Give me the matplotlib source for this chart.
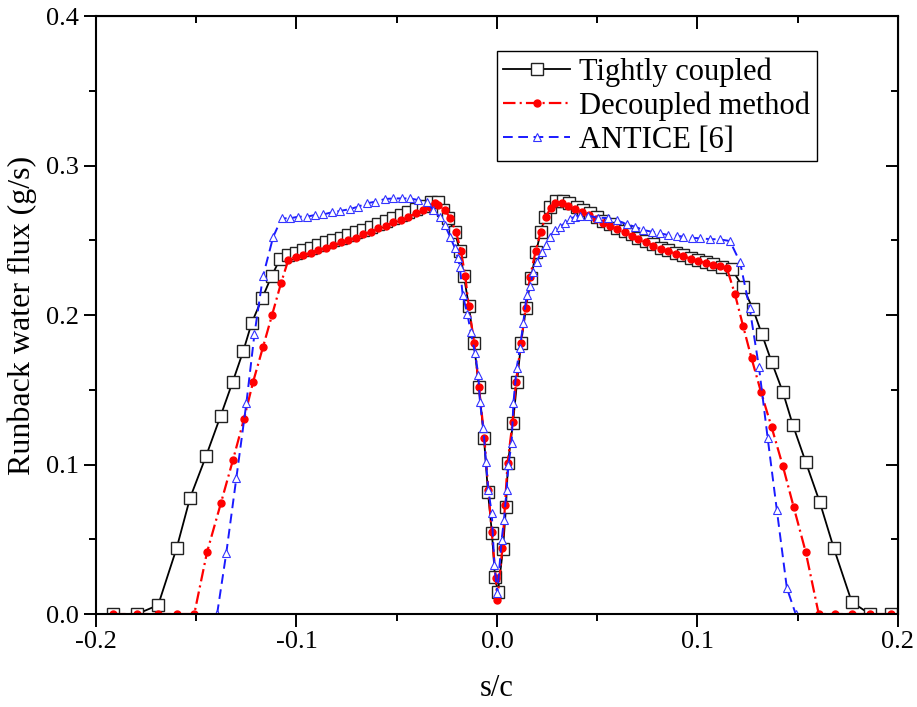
import matplotlib
matplotlib.use("Agg")
import matplotlib.pyplot as plt
from matplotlib.ticker import MultipleLocator, FormatStrFormatter

plt.rcParams['font.family'] = ['Liberation Serif', 'DejaVu Serif']
plt.rcParams['lines.scale_dashes'] = False

# Tightly coupled (black squares)
tc_x = [-0.1915, -0.1795, -0.169, -0.1598, -0.1531, -0.1451, -0.1378, -0.1318, -0.1265, -0.1223,
        -0.117, -0.1124, -0.1082, -0.1041, -0.1003, -0.0966, -0.0929, -0.0891, -0.0853, -0.0816,
        -0.078, -0.0742, -0.0703, -0.0667, -0.063, -0.0592, -0.0554, -0.0517, -0.048, -0.0442,
        -0.0405, -0.0368, -0.033, -0.0293, -0.027, -0.0244, -0.021, -0.0185, -0.0165, -0.014,
        -0.0115, -0.009, -0.0065, -0.0045, -0.0025, -0.001, 0.0005, 0.003, 0.0045, 0.0055,
        0.008, 0.010, 0.012, 0.0145, 0.017, 0.0195, 0.0218, 0.024, 0.0264, 0.0294,
        0.0328, 0.0361, 0.0398, 0.043, 0.0464, 0.0497, 0.053, 0.0564, 0.06, 0.0638,
        0.0672, 0.0705, 0.0743, 0.078, 0.0816, 0.0854, 0.0893, 0.0929, 0.0966, 0.1004,
        0.1042, 0.1079, 0.1121, 0.117, 0.1227, 0.1277, 0.1322, 0.137, 0.1426, 0.1476,
        0.154, 0.161, 0.168, 0.177, 0.186, 0.1965]
tc_y = [0.0, 0.0, 0.006, 0.044, 0.0776, 0.1057, 0.1327, 0.1554, 0.1761, 0.1949,
        0.2116, 0.2261, 0.2375, 0.2401, 0.2417, 0.2435, 0.245, 0.2468, 0.2486, 0.2502,
        0.2517, 0.2535, 0.2553, 0.2569, 0.2591, 0.2607, 0.2629, 0.2647, 0.2669, 0.2687,
        0.2709, 0.2731, 0.2754, 0.2754, 0.270, 0.265, 0.2555, 0.243, 0.226, 0.206,
        0.181, 0.152, 0.118, 0.0816, 0.054, 0.0247, 0.0147, 0.0435, 0.0716, 0.101,
        0.128, 0.155, 0.181, 0.205, 0.225, 0.242, 0.2557, 0.2658, 0.2725, 0.2763,
        0.2763, 0.2747, 0.2725, 0.2702, 0.268, 0.2658, 0.2629, 0.2607, 0.2584, 0.2562,
        0.254, 0.2517, 0.2495, 0.2473, 0.245, 0.2435, 0.2417, 0.2401, 0.2383, 0.2368,
        0.2353, 0.2339, 0.2323, 0.231, 0.2187, 0.204, 0.187, 0.1686, 0.1485, 0.1264,
        0.1017, 0.0749, 0.0441, 0.008, 0.0, 0.0]

# Decoupled method (red dots)
dc_x = [-0.1915, -0.1795, -0.169, -0.1596, -0.151, -0.1446, -0.1377, -0.1317, -0.1262, -0.1217,
        -0.1167, -0.1122, -0.1077, -0.1041, -0.1003, -0.0966, -0.0929, -0.0891, -0.0853, -0.0816,
        -0.078, -0.0742, -0.0703, -0.0667, -0.063, -0.0592, -0.0554, -0.0517, -0.048, -0.0442,
        -0.0404, -0.0368, -0.0335, -0.031, -0.0294, -0.026, -0.0234, -0.0204, -0.018, -0.0158,
        -0.0141, -0.0113, -0.009, -0.0063, -0.0043, -0.0026, -0.0006, 0.0002, 0.0027, 0.004,
        0.0053, 0.0078, 0.0095, 0.012, 0.0143, 0.0165, 0.0193, 0.0218, 0.0243, 0.0268,
        0.0289, 0.0323, 0.0356, 0.039, 0.0425, 0.046, 0.0495, 0.053, 0.0564, 0.06,
        0.0638, 0.0672, 0.0705, 0.0743, 0.078, 0.0816, 0.0854, 0.0893, 0.0929, 0.0966,
        0.1004, 0.1042, 0.1079, 0.1112, 0.1147, 0.1187, 0.1227, 0.127, 0.1317, 0.137,
        0.1426, 0.148, 0.154, 0.1605, 0.1686, 0.177, 0.186, 0.1965]
dc_y = [0.0, 0.0, 0.0, 0.0, 0.0, 0.0415, 0.0742, 0.103, 0.1304, 0.155,
        0.1786, 0.200, 0.2214, 0.2368, 0.239, 0.2401, 0.2417, 0.2435, 0.245, 0.2468,
        0.2486, 0.2502, 0.2517, 0.254, 0.2557, 0.258, 0.2597, 0.262, 0.2635, 0.2658,
        0.268, 0.2702, 0.2725, 0.2751, 0.2736, 0.2702, 0.265, 0.2555, 0.243, 0.226,
        0.206, 0.181, 0.152, 0.118, 0.083, 0.055, 0.024, 0.0094, 0.0441, 0.0729,
        0.101, 0.1286, 0.1554, 0.1813, 0.2049, 0.2256, 0.2428, 0.2557, 0.2658, 0.2714,
        0.2747, 0.2747, 0.2731, 0.2712, 0.269, 0.2668, 0.2645, 0.2618, 0.2597, 0.2575,
        0.2553, 0.253, 0.2508, 0.2486, 0.2465, 0.2443, 0.2427, 0.241, 0.2394, 0.2377,
        0.2362, 0.2348, 0.2335, 0.2325, 0.2312, 0.214, 0.193, 0.171, 0.1485, 0.125,
        0.099, 0.0716, 0.0415, 0.0, 0.0, 0.0, 0.0, 0.0]

# ANTICE [6] (blue triangles)
an_x = [-0.1396, -0.135, -0.130, -0.125, -0.121, -0.1167, -0.1116, -0.1074, -0.1032, -0.0991,
        -0.0949, -0.0908, -0.0866, -0.0824, -0.0783, -0.0733, -0.0692, -0.065, -0.0608, -0.0559,
        -0.0517, -0.0475, -0.0434, -0.0392, -0.035, -0.0318, -0.0284, -0.026, -0.0234, -0.021,
        -0.0195, -0.0185, -0.0171, -0.0148, -0.0131, -0.011, -0.0093, -0.0085, -0.0068, -0.0055,
        -0.0043, -0.0026, -0.0013, 0.0002, 0.0023, 0.0035, 0.0048, 0.0057, 0.0073, 0.0082,
        0.0098, 0.0115, 0.0131, 0.0148, 0.0165, 0.0181, 0.0198, 0.0223, 0.0243, 0.0264,
        0.0289, 0.0314, 0.0339, 0.0364, 0.0389, 0.0414, 0.0454, 0.0504, 0.0554, 0.0597,
        0.0647, 0.0688, 0.073, 0.0772, 0.0813, 0.0854, 0.0896, 0.0929, 0.0971, 0.1012,
        0.1062, 0.1112, 0.1162, 0.1212, 0.126, 0.1307, 0.135, 0.1396, 0.1446, 0.149]
an_y = [0.0, 0.041, 0.091, 0.141, 0.187, 0.226, 0.2524, 0.2647, 0.2647, 0.2658,
        0.2658, 0.2669, 0.2673, 0.2687, 0.2696, 0.2709, 0.2725, 0.2747, 0.2758, 0.2776,
        0.278, 0.278, 0.278, 0.2769, 0.2754, 0.2702, 0.2654, 0.2602, 0.2524, 0.2448,
        0.2381, 0.232, 0.2134, 0.201, 0.1888, 0.1748, 0.16, 0.142, 0.1243, 0.1019,
        0.083, 0.0674, 0.0328, 0.014, 0.0495, 0.0629, 0.083, 0.0997, 0.1144, 0.141,
        0.1645, 0.178, 0.1946, 0.2134, 0.2194, 0.229, 0.2357, 0.2424, 0.2468, 0.2524,
        0.2569, 0.259, 0.2615, 0.2642, 0.2658, 0.2665, 0.2665, 0.2651, 0.2649, 0.2635,
        0.2607, 0.2591, 0.2569, 0.2557, 0.2547, 0.2535, 0.2531, 0.2524, 0.2517, 0.2513,
        0.2508, 0.2506, 0.2495, 0.2355, 0.205, 0.165, 0.118, 0.0696, 0.0174, 0.0]

fig = plt.figure(figsize=(9.17, 7.07), dpi=100)
ax = fig.add_axes([0.1047, 0.1315, 0.8745, 0.8458])

ax.plot(tc_x, tc_y, color='black', lw=1.3, marker='s', ms=8,
        mfc='white', mec='#222222', mew=1.0, label='Tightly coupled')
ax.plot(dc_x, dc_y, color='red', lw=1.6, dashes=(9, 3, 1.5, 3), marker='o', ms=5,
        mfc='red', mec='red', label='Decoupled method')
ax.plot(an_x, an_y, color='#1a1aff', lw=1.4, dashes=(7, 4), marker='^', ms=6,
        mfc='white', mec='#3333ff', mew=0.8, label='ANTICE [6]')

ax.set_xlim(-0.2, 0.2)
ax.set_ylim(0.0, 0.4)
ax.xaxis.set_major_locator(MultipleLocator(0.1))
ax.xaxis.set_minor_locator(MultipleLocator(0.05))
ax.yaxis.set_major_locator(MultipleLocator(0.1))
ax.yaxis.set_minor_locator(MultipleLocator(0.05))
ax.xaxis.set_major_formatter(FormatStrFormatter('%.1f'))
ax.yaxis.set_major_formatter(FormatStrFormatter('%.1f'))

ax.tick_params(which='both', direction='out', width=1.4, labelsize=19,
               top=False, right=False)
ax.tick_params(which='major', length=9)
ax.tick_params(which='minor', length=5)
for s in ax.spines.values():
    s.set_linewidth(1.5)

# inward ticks on top and right
top = ax.secondary_xaxis('top')
top.xaxis.set_major_locator(MultipleLocator(0.1))
top.xaxis.set_minor_locator(MultipleLocator(0.05))
top.tick_params(which='both', direction='in', labeltop=False, width=1.4)
top.tick_params(which='major', length=9)
top.tick_params(which='minor', length=5)
right = ax.secondary_yaxis('right')
right.yaxis.set_major_locator(MultipleLocator(0.1))
right.yaxis.set_minor_locator(MultipleLocator(0.05))
right.tick_params(which='both', direction='in', labelright=False, width=1.4)
right.tick_params(which='major', length=9)
right.tick_params(which='minor', length=5)

ax.set_xlabel('s/c', fontsize=22, labelpad=15)
ax.set_ylabel('Runback water flux (g/s)', fontsize=23, labelpad=6)

leg = ax.legend(loc='upper left', bbox_to_anchor=(0.5, 0.941), borderaxespad=0,
                fontsize=22, numpoints=1, handlelength=2.2, handletextpad=0.3,
                labelspacing=0.15, borderpad=0.2, fancybox=False, framealpha=1)
leg.get_frame().set_edgecolor('black')
leg.get_frame().set_linewidth(1.0)

plt.savefig('out.png', dpi=100)
